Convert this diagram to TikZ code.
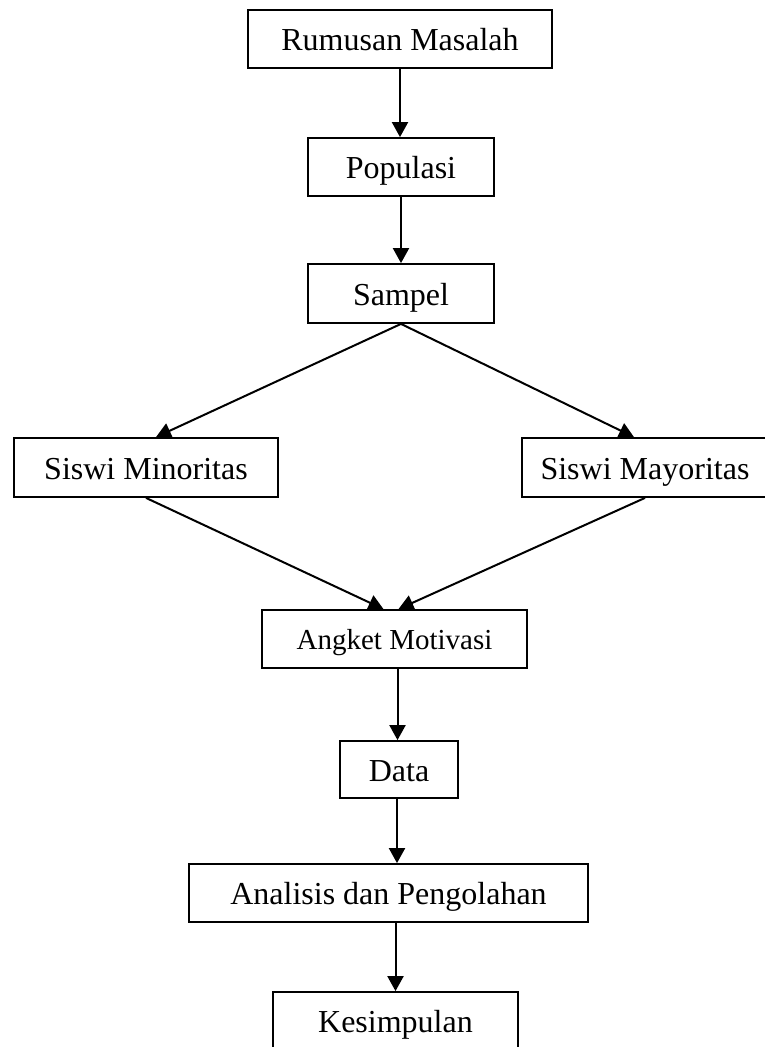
\documentclass[tikz,border=0pt]{standalone}
\usepackage{fontspec}
\setmainfont{Liberation Serif}
\usetikzlibrary{arrows.meta}

\begin{document}
\begin{tikzpicture}[x=1pt,y=-1pt,
  box/.style={shape=rectangle,draw=black,line width=1.8pt,align=center,inner sep=0pt,text height=26pt,text depth=3pt,font=\fontsize{32}{38}\selectfont},
  arr/.style={-{Triangle[length=15pt,width=16pt]},draw=black,line width=2pt}]
\useasboundingbox (0,0) rectangle (765,1047);
\node[box,minimum width=304pt,minimum height=58pt] (rumusan) at (400,39) {Rumusan Masalah};
\node[box,minimum width=186pt,minimum height=58pt] (populasi) at (401,167) {Populasi};
\node[box,minimum width=186pt,minimum height=59pt] (sampel) at (401,293.5) {Sampel};
\node[box,minimum width=264pt,minimum height=59pt] (minoritas) at (146,467.5) {Siswi Minoritas};
\node[box,minimum width=246pt,minimum height=59pt] (mayoritas) at (645,467.5) {Siswi Mayoritas};
\node[box,minimum width=265pt,minimum height=58pt,font=\fontsize{29}{35}\selectfont,text height=24pt] (angket) at (394.5,639) {Angket Motivasi};
\node[box,minimum width=118pt,minimum height=57pt] (data) at (399,769.5) {Data};
\node[box,minimum width=399pt,minimum height=58pt] (analisis) at (388.5,893) {Analisis dan Pengolahan};
\node[box,minimum width=245pt,minimum height=58pt] (kesimpulan) at (395.5,1021) {Kesimpulan};

\draw[arr] (rumusan.south) -- (rumusan.south |- populasi.north);
\draw[arr] (populasi.south) -- (populasi.south |- sampel.north);
\draw[arr] (sampel.south) -- ([xshift=10pt]minoritas.north);
\draw[arr] (sampel.south) -- ([xshift=-11pt]mayoritas.north);
\draw[arr] (minoritas.south) -- ([xshift=-11pt]angket.north);
\draw[arr] (mayoritas.south) -- ([xshift=4pt]angket.north);
\draw[arr] ([xshift=3pt]angket.south) -- ([xshift=3pt]angket.south |- data.north);
\draw[arr] ([xshift=-2pt]data.south) -- ([xshift=-2pt]data.south |- analisis.north);
\draw[arr] ([xshift=7pt]analisis.south) -- ([xshift=7pt]analisis.south |- kesimpulan.north);
\end{tikzpicture}
\end{document}
